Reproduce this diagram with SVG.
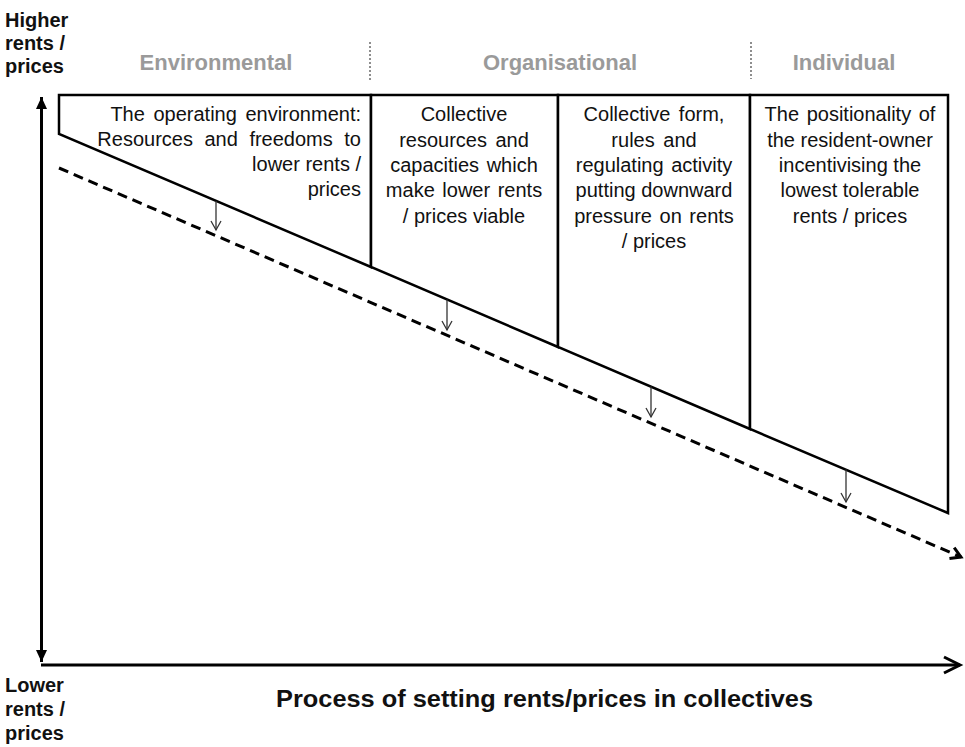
<svg xmlns="http://www.w3.org/2000/svg" width="965" height="747" viewBox="0 0 965 747">
<style>
  .box { fill: #ffffff; stroke: #000000; stroke-width: 2.5; stroke-linejoin: miter; }
  .t { font-family: "Liberation Sans", Arial, sans-serif; font-size: 20px; fill: #111111; }
  .c { text-anchor: middle; }
  .r { text-anchor: end; }
  .hdr { font-family: "Liberation Sans", Arial, sans-serif; font-size: 22px; font-weight: bold; fill: #9a9a9a; text-anchor: middle; }
  .lab { font-family: "Liberation Sans", Arial, sans-serif; font-size: 20px; font-weight: bold; fill: #111111; }
  .title { font-family: "Liberation Sans", Arial, sans-serif; font-size: 23px; font-weight: bold; fill: #111111; }
  .axis { stroke: #000000; stroke-width: 3; fill: none; }
  .dash { stroke: #000000; stroke-width: 3; fill: none; stroke-dasharray: 10 6; }
  .small { stroke: #333333; stroke-width: 1.3; fill: none; }
  .sep { stroke: #444444; stroke-width: 1.2; stroke-dasharray: 2 2; fill: none; }
</style>
<defs>
  <marker id="tri" markerUnits="userSpaceOnUse" markerWidth="14" markerHeight="14" viewBox="-13 -7 14 14" refX="0" refY="0" orient="auto-start-reverse">
    <path d="M -12 -5.5 L 0 0 L -12 5.5 Z" fill="#000000"/>
  </marker>
  <marker id="chev" markerUnits="userSpaceOnUse" markerWidth="24" markerHeight="24" viewBox="-20 -12 24 24" refX="0" refY="0" orient="auto">
    <path d="M -16 -8 L 0 0 L -16 8" fill="none" stroke="#000000" stroke-width="3"/>
  </marker>
  <marker id="chevS" markerUnits="userSpaceOnUse" markerWidth="18" markerHeight="18" viewBox="-14 -9 18 18" refX="0" refY="0" orient="auto">
    <path d="M -10 -6 L 0 0 L -10 6" fill="none" stroke="#000000" stroke-width="3"/>
  </marker>
  <marker id="vee" markerUnits="userSpaceOnUse" markerWidth="14" markerHeight="14" viewBox="-11 -7 14 14" refX="0" refY="0" orient="auto">
    <path d="M -9 -5 L 0 0 L -9 5" fill="none" stroke="#333333" stroke-width="1.3"/>
  </marker>
</defs>

<g id="labels">
  <text class="lab" x="5" y="27">Higher</text>
  <text class="lab" x="5" y="50">rents /</text>
  <text class="lab" x="5" y="73">prices</text>
  <text class="lab" x="5" y="692">Lower</text>
  <text class="lab" x="5" y="716">rents /</text>
  <text class="lab" x="5" y="740">prices</text>
  <text class="title" x="276" y="707" textLength="537" lengthAdjust="spacingAndGlyphs">Process of setting rents/prices in collectives</text>
</g>

<g id="headers">
  <text class="hdr" x="216" y="70">Environmental</text>
  <text class="hdr" x="560" y="70">Organisational</text>
  <text class="hdr" x="844" y="70">Individual</text>
  <line class="sep" x1="370" y1="42" x2="370" y2="80"/>
  <line class="sep" x1="751" y1="42" x2="751" y2="79"/>
</g>

<g id="box-environment">
  <polygon class="box" points="59,95 371,95 371,267 59,134"/>
  <text class="t r" x="361" y="121" word-spacing="3">The operating environment:</text>
  <text class="t r" x="361" y="146" word-spacing="6">Resources and  freedoms to</text>
  <text class="t r" x="361" y="171">lower rents /</text>
  <text class="t r" x="361" y="196">prices</text>
</g>

<g id="box-resources">
  <polygon class="box" points="371,95 558,95 558,347 371,267"/>
  <text class="t c" x="464" y="121">Collective</text>
  <text class="t c" x="464" y="146.5" word-spacing="3">resources and</text>
  <text class="t c" x="464" y="172" word-spacing="2">capacities which</text>
  <text class="t c" x="464" y="197" word-spacing="2">make lower rents</text>
  <text class="t c" x="464" y="222.5">/ prices viable</text>
</g>

<g id="box-form">
  <polygon class="box" points="558,95 750,95 750,429 558,347"/>
  <text class="t c" x="654" y="121" word-spacing="3">Collective form,</text>
  <text class="t c" x="654" y="146.5" word-spacing="3">rules and</text>
  <text class="t c" x="654" y="172" word-spacing="2">regulating activity</text>
  <text class="t c" x="654" y="197">putting downward</text>
  <text class="t c" x="654" y="222.5" word-spacing="2">pressure on rents</text>
  <text class="t c" x="654" y="248">/ prices</text>
</g>

<g id="box-positionality">
  <polygon class="box" points="750,95 948,95 948,513 750,429"/>
  <text class="t c" x="850" y="121" word-spacing="2">The positionality of</text>
  <text class="t c" x="850" y="146.5">the resident-owner</text>
  <text class="t c" x="850" y="172">incentivising the</text>
  <text class="t c" x="850" y="197">lowest tolerable</text>
  <text class="t c" x="850" y="222.5">rents / prices</text>
</g>

<g id="connectors">
  <line class="axis" x1="41.5" y1="97" x2="41.5" y2="662" marker-start="url(#tri)" marker-end="url(#tri)"/>
  <line class="axis" x1="41" y1="665" x2="960" y2="665" marker-end="url(#chev)"/>
  <line class="dash" x1="59" y1="168" x2="961" y2="557" marker-end="url(#chevS)"/>
  <line class="small" x1="216" y1="201" x2="216" y2="230" marker-end="url(#vee)"/>
  <line class="small" x1="447" y1="299.5" x2="447" y2="330" marker-end="url(#vee)"/>
  <line class="small" x1="651" y1="386.5" x2="651" y2="417" marker-end="url(#vee)"/>
  <line class="small" x1="846" y1="469.5" x2="846" y2="502" marker-end="url(#vee)"/>
</g>
</svg>
